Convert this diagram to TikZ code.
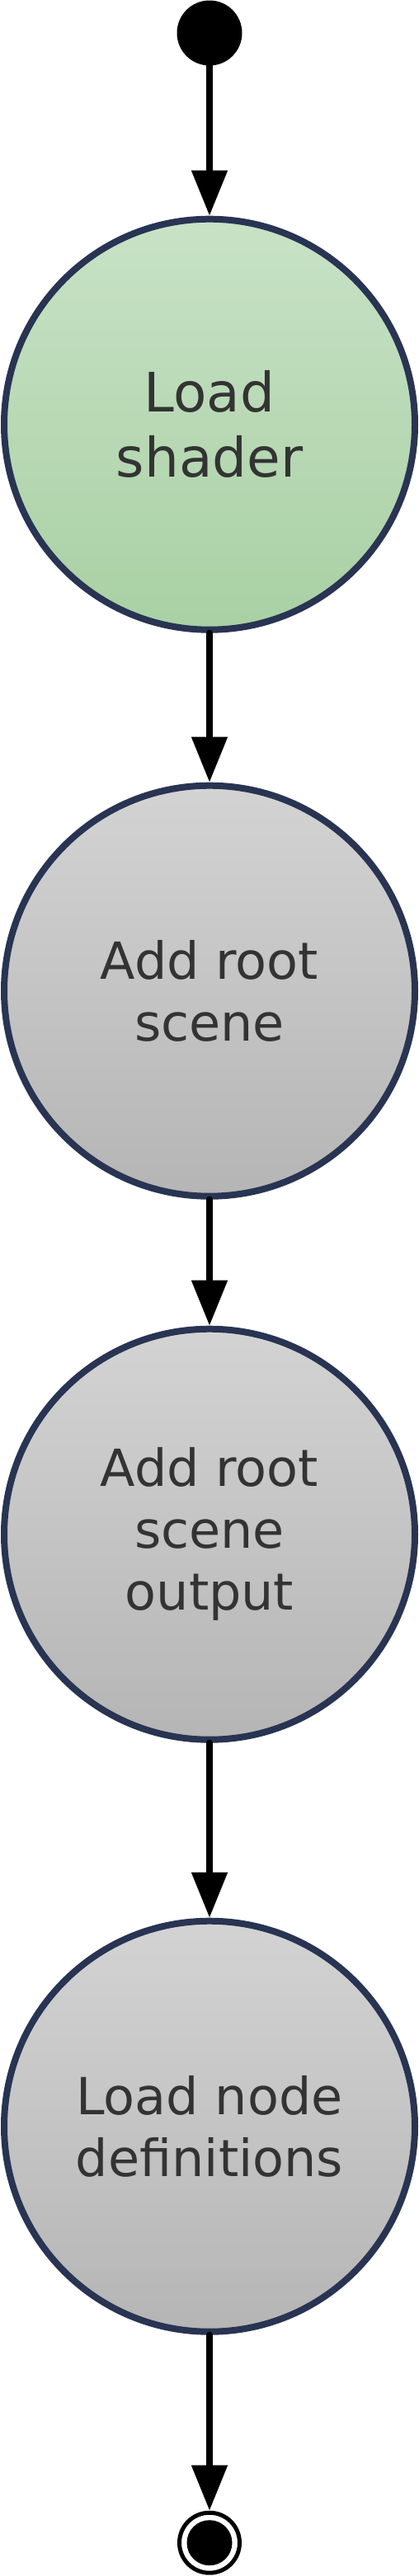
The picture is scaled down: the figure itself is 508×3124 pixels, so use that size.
\documentclass[tikz,border=0pt]{standalone}
\usepackage{fontspec}
\setmainfont{DejaVu Sans}
\usepackage{xcolor}
\usepackage{tikz}
\usetikzlibrary{arrows.meta,positioning,shadows}
\definecolor{rim}{HTML}{283452}
\definecolor{greentop}{HTML}{C8E2C6}
\definecolor{greenbot}{HTML}{A9D0A4}
\definecolor{greytop}{HTML}{D3D3D3}
\definecolor{greybot}{HTML}{B5B5B5}
\definecolor{txt}{HTML}{333333}
\begin{document}
\begin{tikzpicture}[x=1pt,y=1pt,
  state/.style={circle,draw=rim,line width=8pt,minimum size=498pt,inner sep=0pt,align=center,text=txt,
    font=\fontsize{62}{75}\selectfont,top color=greytop,bottom color=greybot,
    drop shadow={shadow xshift=0pt,shadow yshift=-3pt,opacity=0.18,fill=rim}},
  greenstate/.style={state,top color=greentop,bottom color=greenbot,text=black!80,font=\fontsize{66}{79}\selectfont},
  initial/.style={circle,fill=black,minimum size=79pt,inner sep=0pt},
  final/.style={circle,draw=black,fill=white,line width=5pt,minimum size=73pt,inner sep=0pt,
    path picture={\fill[black] (path picture bounding box.center) circle (27.5pt);}},
  arr/.style={-{Triangle[length=55pt,width=42pt]},line width=8pt,line cap=round}]
\useasboundingbox (0,0) rectangle (508,-3124);
\node[initial] (start) at (254,-40) {};
\node[greenstate,below=182pt of start] (shader) {Load\\shader};
\node[state,below=181pt of shader] (scene) {Add root\\scene};
\node[state,below=153pt of scene] (output) {Add root\\scene\\output};
\node[state,below=212pt of output] (defs) {Load node\\definitions};
\node[final,below=213pt of defs] (stop) {};
\draw[arr] (start)--(shader);\draw[arr] (shader)--(scene);\draw[arr] (scene)--(output);\draw[arr] (output)--(defs);\draw[arr] (defs)--(stop);
\end{tikzpicture}
\end{document}
